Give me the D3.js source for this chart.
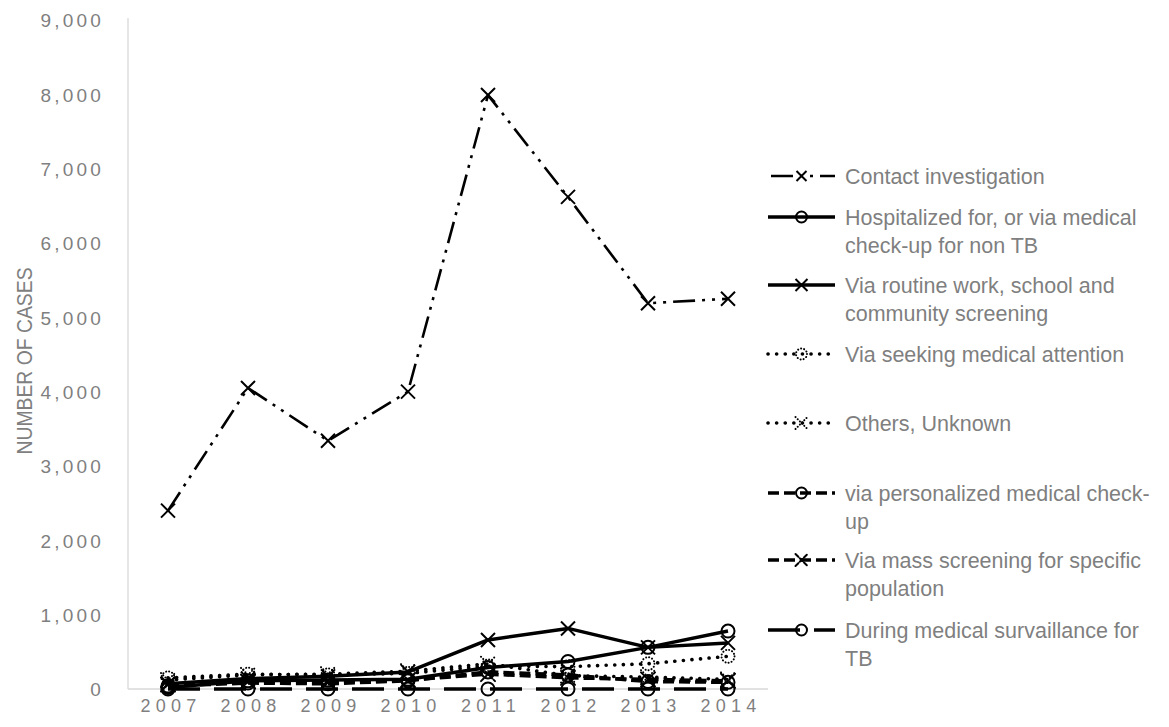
<!DOCTYPE html>
<html>
<head>
<meta charset="utf-8">
<script src="https://cdn.jsdelivr.net/npm/d3@7"></script>
<style>
  html, body { margin: 0; padding: 0; background: #fff; }
  svg { display: block; }
</style>
</head>
<body>
<svg id="chart" width="1169" height="727"></svg>
<script>
// Years on the category axis
const years = ["2007", "2008", "2009", "2010", "2011", "2012", "2013", "2014"];

// Number of cases per detection route
const contactInvestigation = [2400, 4050, 3340, 4000, 7990, 6620, 5190, 5250];
const hospitalizedNonTB   = [20, 110, 120, 130, 290, 370, 560, 780];
const routineScreening    = [70, 140, 170, 230, 660, 815, 560, 620];
const seekingAttention    = [150, 200, 190, 210, 310, 300, 340, 440];
const othersUnknown       = [120, 190, 200, 240, 340, 180, 160, 130];
const personalizedCheckup = [40, 80, 70, 110, 230, 190, 100, 90];
const massScreening       = [60, 100, 90, 120, 200, 150, 130, 110];
const medicalSurveillance = [0, 0, 0, 0, 0, 0, 0, 0];

// Y axis tick values
const yTicks = [0, 1000, 2000, 3000, 4000, 5000, 6000, 7000, 8000, 9000];

const series = [
  { name: ["Contact investigation"], values: contactInvestigation,
    dash: "22,7,3,7,3,7", width: 2.6, marker: "x", markerDash: null, legendOffset: -3 },
  { name: ["Hospitalized for, or via medical", "check-up for non TB"], values: hospitalizedNonTB,
    dash: null, width: 3.5, marker: "o", markerDash: null },
  { name: ["Via routine work, school and", "community screening"], values: routineScreening,
    dash: null, width: 3.5, marker: "x", markerDash: null },
  { name: ["Via seeking medical attention"], values: seekingAttention,
    dash: "0.1,8.5", width: 3.6, marker: "o", markerDash: "0.1,3" },
  { name: ["Others, Unknown"], values: othersUnknown,
    dash: "0.1,8.5", width: 3.6, marker: "x", markerDash: "0.1,3" },
  { name: ["via personalized medical check-", "up"], values: personalizedCheckup,
    dash: "11,5", width: 3.5, marker: "o", markerDash: null },
  { name: ["Via mass screening for specific", "population"], values: massScreening,
    dash: "11,5", width: 3.5, marker: "x", markerDash: "4,2" },
  { name: ["During medical survaillance for", "TB"], values: medicalSurveillance,
    dash: "32,14", width: 3.5, marker: "o", markerDash: null }
];

const svg = d3.select("#chart");
const plot = { left: 128, right: 768, top: 20, bottom: 689 };

const x = d3.scaleBand().domain(years).range([plot.left, plot.right]).padding(0);
const y = d3.scaleLinear().domain([0, 9000]).range([plot.bottom, plot.top]);
const cx = d => x(d) + x.bandwidth() / 2;

const grey = "#7f7f7f";

// Axis lines
svg.append("line").attr("x1", plot.left).attr("x2", plot.left)
  .attr("y1", plot.top - 2).attr("y2", plot.bottom)
  .attr("stroke", "#d9d9d9").attr("stroke-width", 1.3);
svg.append("line").attr("x1", plot.left).attr("x2", plot.right)
  .attr("y1", plot.bottom).attr("y2", plot.bottom)
  .attr("stroke", "#d9d9d9").attr("stroke-width", 1.3);

// Y axis
const yAxis = d3.axisLeft(y).tickValues(yTicks).tickSize(0).tickPadding(0)
  .tickFormat(d3.format(","));
const gy = svg.append("g").attr("transform", `translate(${plot.left - 24},0)`).call(yAxis);
gy.select(".domain").remove();
gy.selectAll("text")
  .attr("fill", grey)
  .attr("font-family", "'Liberation Sans', Arial, sans-serif")
  .attr("font-size", 19)
  .attr("letter-spacing", "3.2px")
  .attr("dy", "0.36em");

// X axis
const xAxis = d3.axisBottom(x).tickSize(0).tickPadding(0);
const gx = svg.append("g").attr("transform", `translate(3,${plot.bottom + 17})`).call(xAxis);
gx.select(".domain").remove();
gx.selectAll("text")
  .attr("fill", grey)
  .attr("font-family", "'Liberation Sans', Arial, sans-serif")
  .attr("font-size", 18)
  .attr("letter-spacing", "5.3px")
  .attr("dy", "0.35em");

// Y axis title, condensed along its length
svg.append("text")
  .attr("transform", `translate(24,361) rotate(-90) scale(0.88,1)`)
  .attr("text-anchor", "middle")
  .attr("dy", "0.35em")
  .attr("fill", grey)
  .attr("font-family", "'Liberation Sans', Arial, sans-serif")
  .attr("font-size", 22)
  .text("NUMBER OF CASES");

// Marker shapes
function drawMarker(g, px, py, s, size) {
  const k = size || 7;
  const m = g.append("g").attr("transform", `translate(${px},${py})`)
    .attr("fill", "none").attr("stroke", "#000").attr("stroke-width", 2);
  if (s.markerDash) m.attr("stroke-dasharray", s.markerDash).attr("stroke-linecap", "round");
  if (s.marker === "x") {
    m.append("path").attr("d", `M${-k},${-k}L${k},${k}M${-k},${k}L${k},${-k}`);
  } else {
    m.append("circle").attr("r", k - 0.5);
  }
}

const line = d3.line().x((d, i) => cx(years[i])).y(d => y(d));

// Lines, drawn from the last series to the first so the top series sits above
const gLines = svg.append("g");
series.slice().reverse().forEach(s => {
  gLines.append("path")
    .datum(s.values)
    .attr("d", line)
    .attr("fill", "none")
    .attr("stroke", "#000")
    .attr("stroke-width", s.width)
    .attr("stroke-linecap", s.dash && s.dash.startsWith("0.1") ? "round" : "butt")
    .attr("stroke-linejoin", "round")
    .attr("stroke-dasharray", s.dash);
  s.values.forEach((v, i) => drawMarker(gLines, cx(years[i]), y(v), s));
});

// Legend
const legendRows = [176, 217, 285, 354, 423, 493, 560, 630];
const lg = svg.append("g");
series.forEach((s, i) => {
  const ry = legendRows[i];
  lg.append("line")
    .attr("x1", 768).attr("x2", 835).attr("y1", ry).attr("y2", ry)
    .attr("stroke", "#000")
    .attr("stroke-width", s.width)
    .attr("stroke-linecap", s.dash && s.dash.startsWith("0.1") ? "round" : "butt")
    .attr("stroke-dasharray", s.dash)
    .attr("stroke-dashoffset", s.legendOffset || 0);
  drawMarker(lg, 801.5, ry, s, s.legendOffset ? 5 : 6);
  const t = lg.append("text")
    .attr("x", 845).attr("y", ry)
    .attr("fill", grey)
    .attr("font-family", "'Liberation Sans', Arial, sans-serif")
    .attr("font-size", 21.5);
  s.name.forEach((ln, k) => {
    t.append("tspan").attr("x", 845).attr("dy", k === 0 ? "0.35em" : 28).text(ln);
  });
});
</script>
</body>
</html>
